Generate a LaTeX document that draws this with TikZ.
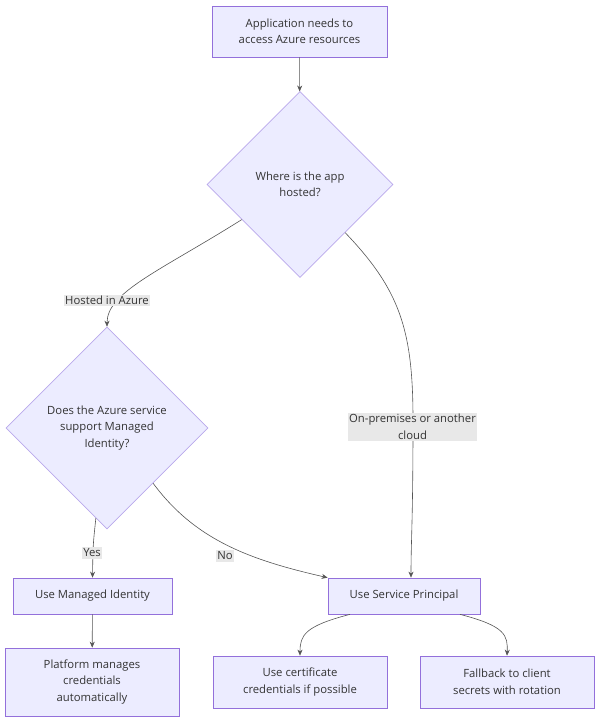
\documentclass[tikz,border=0pt]{standalone}
\usepackage{fontspec}
\setmainfont{Open Sans}
\usetikzlibrary{shapes.geometric,arrows.meta,calc}
\definecolor{nfill}{HTML}{ECECFF}
\definecolor{nline}{HTML}{9370DB}
\definecolor{dline}{HTML}{B9A8EC}
\definecolor{txt}{HTML}{333333}
\definecolor{eline}{HTML}{555555}
\definecolor{lbg}{HTML}{E8E8E8}
\tikzset{
  every node/.style={font=\fontsize{11.3}{16.5}\selectfont, text=txt},
  box/.style={draw=nline, fill=nfill, line width=0.7pt, align=center, inner sep=0pt},
  dia/.style={draw=dline, fill=nfill, line width=0.6pt, diamond, aspect=1, align=center, inner sep=0pt},
  elabel/.style={fill=lbg, align=center, inner sep=1.5pt},
  conn/.style={draw=eline, line width=0.6pt, -{Stealth[length=6pt,width=5pt]}},
}
\begin{document}
\begin{tikzpicture}[x=1pt,y=-1pt]
\useasboundingbox (0,0) rectangle (600,722);
% nodes
\node[box, minimum width=175pt, minimum height=51pt] (A) at (299.5,31.5) {Application needs to\\access Azure resources};
\node[dia, minimum width=186pt, minimum height=186pt] (B) at (300,184.5) {Where is the app\\hosted?};
\node[dia, minimum width=202pt, minimum height=202pt] (C) at (107,428) {Does the Azure service\\support Managed\\Identity?};
\node[box, minimum width=159pt, minimum height=36pt] (MI) at (92.5,596) {Use Managed Identity};
\node[box, minimum width=174pt, minimum height=68pt] (PM) at (92,682) {Platform manages\\credentials\\automatically};
\node[box, minimum width=152pt, minimum height=36pt] (SP) at (404,596) {Use Service Principal};
\node[box, minimum width=174pt, minimum height=52pt] (CE) at (300,682) {Use certificate\\credentials if possible};
\node[box, minimum width=174pt, minimum height=52pt] (FB) at (507,682) {Fallback to client\\secrets with rotation};
% connectors
\draw[conn] (A) -- (B);
\coordinate (b1) at ($(B.west)!0.376!(B.south)$);
\coordinate (b2) at ($(B.south)!0.484!(B.east)$);
\coordinate (c1) at ($(C.west)!0.89!(C.south)$);
\coordinate (c2) at ($(C.south)!0.455!(C.east)$);
\draw[conn] (b1) .. controls (160,271) and (107,292) .. (C.north);
\draw[conn] (b2) .. controls (400,290) and (413,330) .. (413,420) .. controls (413,520) and (411,540) .. (SP.north -| 411,0);
\draw[conn] (c1) .. controls (93,545) .. (MI.north);
\draw[conn] (c2) .. controls (195,540) and (250,560) .. (SP.north west);
\draw[conn] (MI) -- (PM);
\draw[conn] ($(SP.south)+(-54,0)$) .. controls (305,626) and (300,635) .. (CE.north);
\draw[conn] ($(SP.south)+(56,0)$) .. controls (505,626) and (508,635) .. (FB.north);
% edge labels
\node[elabel] (l1) at (107,300.5) {Hosted in Azure};
\node[elabel] (l2) at (412.5,427) {On-premises or another\\cloud};
\node[elabel] (l3) at (92,553) {Yes};
\node[elabel] (l4) at (225,556) {No};
\end{tikzpicture}
\end{document}
